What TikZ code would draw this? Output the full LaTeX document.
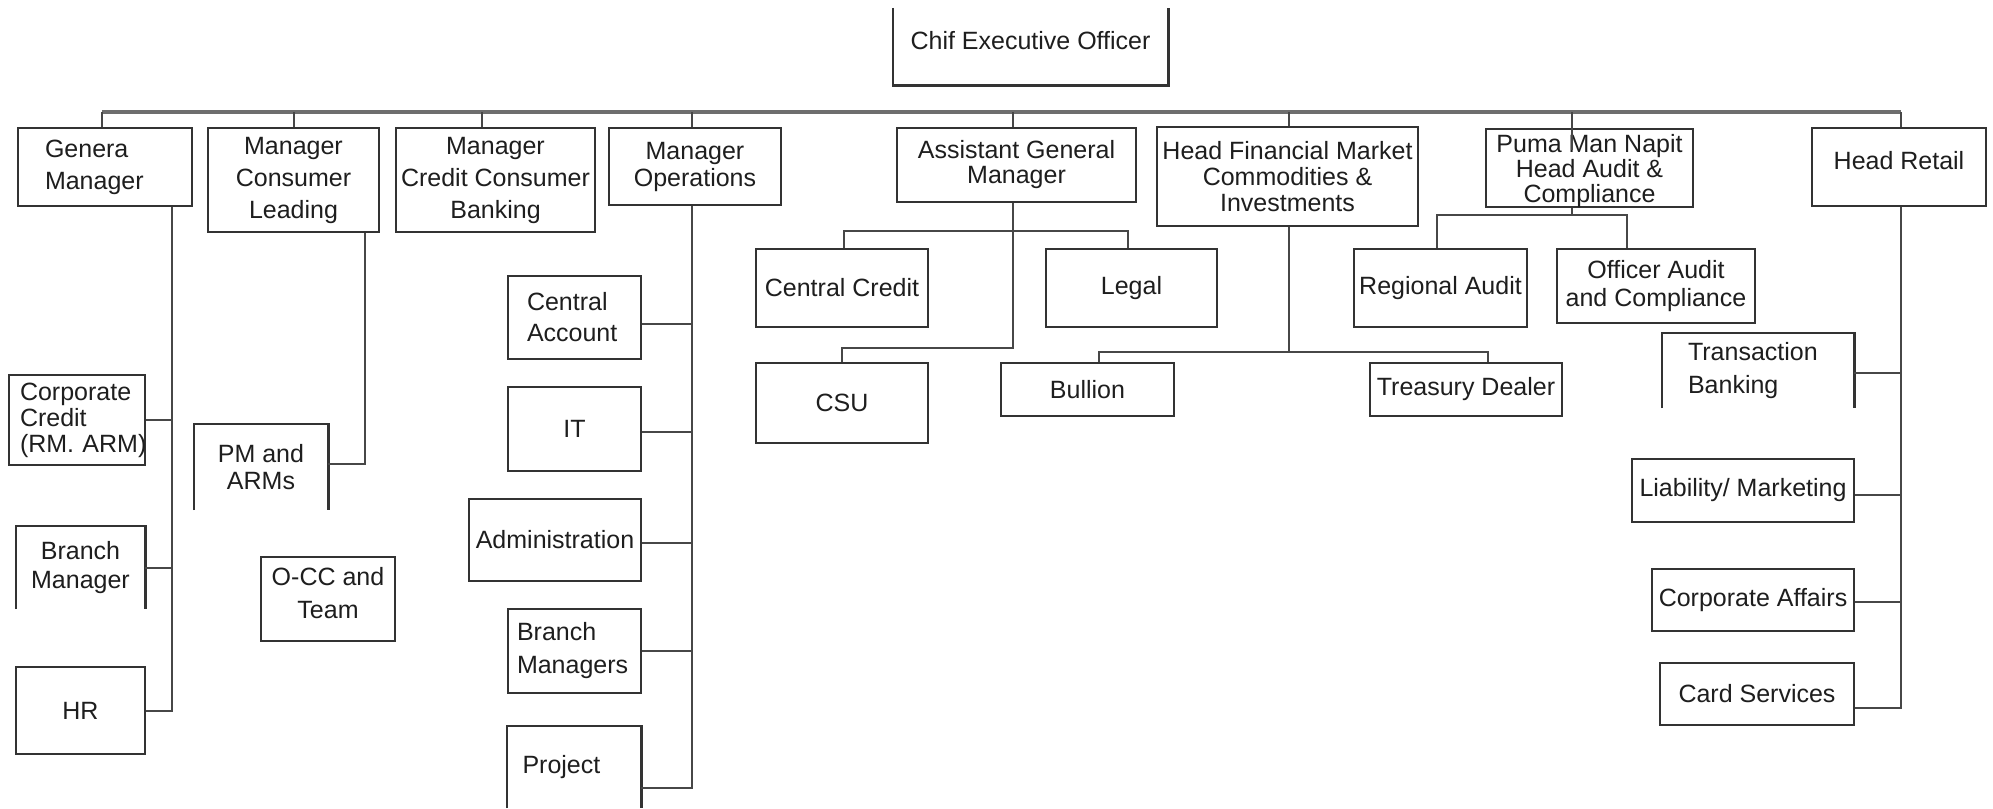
\documentclass[tikz,border=0pt]{standalone}
\usepackage{fontspec}
\setmainfont{Liberation Sans}
\definecolor{boxgray}{HTML}{333333}
\definecolor{conngray}{HTML}{474747}
\definecolor{busgray}{HTML}{6E6E6E}
\definecolor{textgray}{HTML}{1E1E1E}
\begin{document}
\begin{tikzpicture}[x=1pt,y=-1pt,
  base/.style={inner sep=0pt, text=textgray, font=\fontsize{25}{32}\selectfont, align=center},
  box/.style={base, draw=boxgray, line width=2.6pt},
  openbox/.style={base},
  sz/.style 2 args={minimum width=#1pt, minimum height=#2pt},
  lead/.style={font=\fontsize{25}{#1}\selectfont},
  lefttext/.style={text width=#1pt, align=left},
  rim/.style={draw=boxgray, line width=2.6pt, line join=miter},
  conn/.style={draw=conngray, line width=2pt},
  bus/.style={draw=busgray, line width=4pt}
]
\useasboundingbox[fill=white] (0,0) rectangle (1993,808);

% ---------- top level ----------
\node[openbox, sz={275}{77}, text depth=13pt] (ceo) at (1030.5,46.5) {Chif Executive Officer};
\draw[rim] (ceo.north west) -- (ceo.south west) -- (ceo.south east) -- (ceo.north east);

\node[box, sz={174}{78}, lefttext=120] (gm) at (105,167) {Genera\\Manager};
\node[box, sz={171}{104}] (mcl) at (293.5,180) {Manager\\Consumer\\Leading};
\node[box, sz={199}{104}] (mccb) at (495.5,180) {Manager\\Credit Consumer\\Banking};
\node[box, sz={172}{77}, lead=27] (mo) at (695,166.5) {Manager\\Operations};
\node[box, sz={239}{74}, lead=25] (agm) at (1016.5,165) {Assistant General\\Manager};
\node[box, sz={261}{99}, lead=26] (hfm) at (1287.5,176.5) {Head Financial Market\\Commodities \&\\Investments};
\node[box, sz={207}{78}, lead=25, text depth=0pt] (puma) at (1589.5,168) {Puma Man Napit\\Head Audit \&\\Compliance};
\node[box, sz={174}{78}, text depth=13pt] (hret) at (1899,167) {Head Retail};

% bus line under the chief executive
\coordinate (busL) at (102,112);
\coordinate (busR) at (1901,112);
\draw[bus] (busL) -- (busR);
\draw[conn] (busL) -- (busL |- gm.north);
\draw[conn] (mcl.north |- busL) -- (mcl.north);
\draw[conn] ([xshift=-13.5pt]mccb.north |- busL) -- ([xshift=-13.5pt]mccb.north);
\draw[conn] ([xshift=-3pt]mo.north |- busL) -- ([xshift=-3pt]mo.north);
\draw[conn] ([xshift=-3.5pt]agm.north |- busL) -- ([xshift=-3.5pt]agm.north);
\draw[conn] ([xshift=1.5pt]hfm.north |- busL) -- ([xshift=1.5pt]hfm.north);
\draw[conn] ([xshift=-17.5pt]puma.north |- busL) -- ([xshift=-17.5pt,yshift=-22pt]puma.north);
\draw[conn] (busR) -- (busR |- hret.north);

% ---------- general manager ----------
\node[box, sz={136}{90}, lead=26, lefttext=114] (cc) at (77,420) {Corporate\\Credit\\(RM.~ARM)};
\node[openbox, sz={129}{83}, lead=29] (bm) at (80.5,567.5) {Branch\\Manager};
\draw[rim] (bm.south west) -- (bm.north west) -- (bm.north east) -- (bm.south east);
\node[box, sz={129}{87}] (hrd) at (80.5,710.5) {HR};
\coordinate (gmj) at (172,711);
\draw[conn] ([xshift=67pt]gm.south) |- (hrd.east);
\draw[conn] (cc.east) -- (cc.east -| gmj);
\draw[conn] (bm.east) -- (bm.east -| gmj);

% ---------- manager consumer leading ----------
\node[openbox, sz={134}{86}, lead=27] (pm) at (261,467) {PM and\\ARMs};
\draw[rim] (pm.south west) -- (pm.north west) -- (pm.north east) -- (pm.south east);
\node[box, sz={134}{84}, lead=33, text depth=13pt] (occ) at (328,599) {O-CC and\\Team};
\draw[conn] ([xshift=71.5pt]mcl.south) |- ([yshift=3pt]pm.east);

% ---------- manager operations ----------
\node[box, sz={133}{83}, lead=31, lefttext=95] (ca) at (574.5,317.5) {Central\\Account};
\node[box, sz={133}{84}] (it) at (574.5,429) {IT};
\node[box, sz={172}{82}] (adm) at (555,540) {Administration};
\node[box, sz={133}{84}, lead=33, lefttext=115] (bms) at (574.5,651) {Branch\\Managers};
\node[openbox, sz={134}{82}, lefttext=103] (prj) at (574,767) {Project};
\draw[rim] (prj.south west) -- (prj.north west) -- (prj.north east) -- (prj.south east);
\coordinate (moj) at (692,788);
\draw[conn] ([xshift=-3pt]mo.south) |- ([yshift=-21pt]prj.east);
\draw[conn] ([yshift=-6.5pt]ca.east) -- ([yshift=-6.5pt]ca.east -| moj);
\draw[conn] ([yshift=-3pt]it.east) -- ([yshift=-3pt]it.east -| moj);
\draw[conn] ([yshift=-3pt]adm.east) -- ([yshift=-3pt]adm.east -| moj);
\draw[conn] (bms.east) -- (bms.east -| moj);

% ---------- assistant general manager ----------
\node[box, sz={172}{78}] (ccr) at (842,288) {Central Credit};
\node[box, sz={171}{78}, text depth=6pt] (legal) at (1131.5,288) {Legal};
\node[box, sz={172}{80}] (csu) at (842,403) {CSU};
\coordinate (agmb) at (1013,231);
\coordinate (agmj) at (1013,348);
\draw[conn] ([xshift=-3.5pt]agm.south) -- (agmj) -| (csu.north);
\draw[conn] ([xshift=2pt]ccr.north) |- (agmb) -| ([xshift=-3.5pt]legal.north);

% ---------- head financial market ----------
\node[box, sz={173}{53}] (bul) at (1087.5,389.5) {Bullion};
\node[box, sz={192}{53}] (trs) at (1466,389.5) {Treasury Dealer};
\coordinate (hfmj) at (1289,352);
\draw[conn] ([xshift=1.5pt]hfm.south) -- (hfmj);
\draw[conn] ([xshift=11.5pt]bul.north) |- (hfmj) -| ([xshift=22pt]trs.north);

% ---------- head audit ----------
\node[box, sz={173}{78}] (ra) at (1440.5,288) {Regional Audit};
\node[box, sz={198}{74}, lead=28] (oa) at (1656,286) {Officer Audit\\and Compliance};
\coordinate (pj) at (1572,215);
\draw[conn] ([xshift=-17.5pt]puma.south) -- (pj);
\draw[conn] ([xshift=-3.5pt]ra.north) |- (pj) -| ([xshift=-29pt]oa.north);

% ---------- head retail ----------
\node[openbox, sz={192}{75}, lead=33, lefttext=140] (tb) at (1758,370.5) {Transaction\\Banking};
\draw[rim] (tb.south west) -- (tb.north west) -- (tb.north east) -- (tb.south east);
\node[box, sz={222}{63}] (lm) at (1743,490.5) {Liability/ Marketing};
\node[box, sz={202}{62}] (caf) at (1753,600) {Corporate Affairs};
\node[box, sz={194}{62}] (cs) at (1757,694) {Card Services};
\coordinate (hrj) at (1901,708);
\draw[conn] ([xshift=2pt]hret.south) |- ([yshift=-14pt]cs.east);
\draw[conn] ([yshift=-2.5pt]tb.east) -- ([yshift=-2.5pt]tb.east -| hrj);
\draw[conn] ([yshift=-4.5pt]lm.east) -- ([yshift=-4.5pt]lm.east -| hrj);
\draw[conn] ([yshift=-2pt]caf.east) -- ([yshift=-2pt]caf.east -| hrj);
\end{tikzpicture}
\end{document}
